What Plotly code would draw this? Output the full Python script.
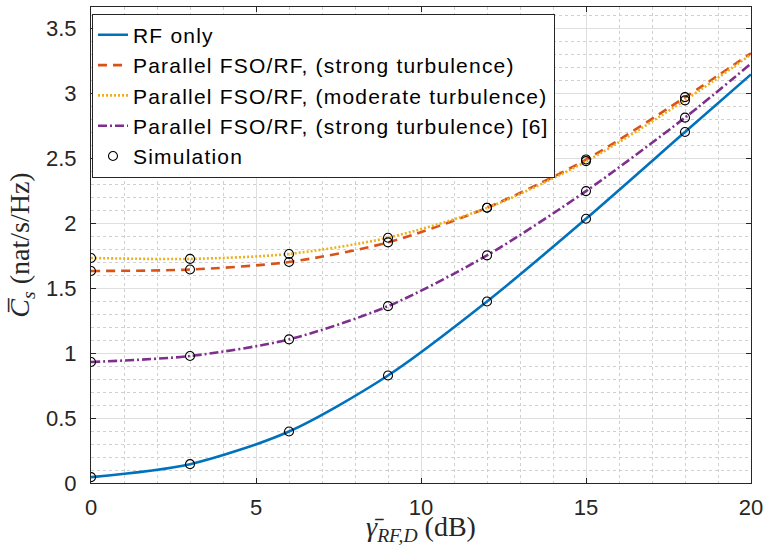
import plotly.graph_objects as go

# x positions (dB)
x_curve = [0, 3, 6, 9, 12, 15, 18, 20]
rf_only = [0.045, 0.145, 0.397, 0.828, 1.398, 2.035, 2.703, 3.147]
par_strong = [1.633, 1.644, 1.702, 1.853, 2.120, 2.490, 2.970, 3.310]
par_moderate = [1.733, 1.726, 1.764, 1.889, 2.118, 2.476, 2.948, 3.300]
par_strong_ref6 = [0.932, 0.978, 1.106, 1.362, 1.753, 2.248, 2.814, 3.230]

x_sim = [0, 3, 6, 9, 12, 15, 18]
sim_rf = [0.045, 0.145, 0.397, 0.828, 1.398, 2.035, 2.703]
sim_strong = [1.633, 1.644, 1.702, 1.853, 2.120, 2.492, 2.972]
sim_moderate = [1.733, 1.726, 1.764, 1.889, 2.120, 2.479, 2.947]
sim_ref6 = [0.932, 0.978, 1.106, 1.362, 1.753, 2.248, 2.814]

names = ["RF only",
         "Parallel FSO/RF, (strong turbulence)",
         "Parallel FSO/RF, (moderate turbulence)",
         "Parallel FSO/RF, (strong turbulence) [6]",
         "Simulation"]

colors = ["#0072BD", "#D95319", "#EDB120", "#7E2F8E"]
dashes = ["solid", "9px,6px", "2px,2px", "9px,3px,2px,3px"]


def lbl(s):
    return '<span style="letter-spacing:1.2px">' + s + '</span>'


fig = go.Figure()
for ys, nm, c, d in zip([rf_only, par_strong, par_moderate, par_strong_ref6], names[:4], colors, dashes):
    fig.add_trace(go.Scatter(x=x_curve, y=ys, mode="lines", name=lbl(nm),
                             line=dict(color=c, width=2.6, dash=d, shape="spline", smoothing=0.8)))

sx = x_sim * 4
sy = sim_rf + sim_strong + sim_moderate + sim_ref6
fig.add_trace(go.Scatter(x=sx, y=sy, mode="markers", name=lbl(names[4]),
                         marker=dict(symbol="circle-open", size=9, color="black",
                                     line=dict(width=1.1, color="black"))))

axis_common = dict(
    showline=True, linecolor="#262626", linewidth=1, mirror="ticks",
    ticks="inside", ticklen=5, tickcolor="#262626", tickwidth=1,
    showgrid=True, gridcolor="#dfdfdf", gridwidth=1,
    zeroline=False, automargin=False,
    tickfont=dict(family="Liberation Sans, Arial, sans-serif", size=22, color="#262626"),
)

title_font = dict(family="Liberation Serif, serif", size=28, color="#262626")

fig.update_xaxes(range=[0, 20], tickvals=[0, 5, 10, 15, 20],
                 ticklabelstandoff=5,
                 minor=dict(dtick=1, showgrid=True, gridcolor="#d0d0d0", griddash="dot", ticks=""),
                 title=dict(text="<i>γ\u0304</i><sub><i>RF,D</i></sub> (dB)",
                            font=title_font, standoff=0),
                 **axis_common)
fig.update_yaxes(range=[0, 3.666], tickvals=[0, 0.5, 1, 1.5, 2, 2.5, 3, 3.5],
                 ticktext=["0", "0.5", "1", "1.5", "2", "2.5", "3", "3.5"],
                 ticklabelstandoff=9,
                 minor=dict(dtick=0.1, showgrid=True, gridcolor="#d0d0d0", griddash="dot", ticks=""),
                 title=dict(text="<i>C\u0305</i><sub><i>s</i></sub> (nat/s/Hz)\u00a0\u00a0\u00a0",
                            font=title_font, standoff=8),
                 **axis_common)

fig.update_layout(
    width=766, height=546,
    margin=dict(l=91, r=15, t=7, b=63, pad=0),
    plot_bgcolor="white", paper_bgcolor="white",
    legend=dict(x=0.0015, y=0.986, xanchor="left", yanchor="top",
                bgcolor="white", bordercolor="#262626", borderwidth=1,
                font=dict(family="Liberation Sans, Arial, sans-serif", size=21, color="black"),
                itemwidth=30),
    showlegend=True,
)

fig.write_html("out.html", config={"displayModeBar": False},
               post_script="document.body.style.margin='0px';document.body.style.overflow='hidden';")
